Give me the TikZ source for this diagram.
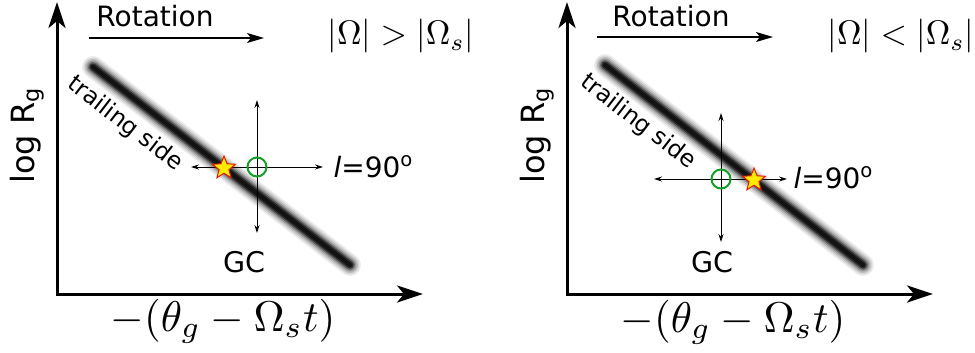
\documentclass[tikz,border=0pt]{standalone}
\usepackage{fontspec}
\newfontfamily\dejavu{DejaVu Sans}
\usetikzlibrary{arrows.meta,shapes.geometric}
\definecolor{ringgreen}{RGB}{20,160,40}
\definecolor{staryellow}{RGB}{255,236,0}
\definecolor{starred}{RGB}{230,25,0}

\begin{document}
\begin{tikzpicture}[x=1pt,y=-1pt,>=Stealth]
\tikzset{axis/.style={line width=3pt,{Stealth[length=26pt,width=17pt,inset=7pt]}-{Stealth[length=26pt,width=17pt,inset=7pt]}},
  rot/.style={line width=1.5pt,-{Stealth[length=17pt,width=10pt,inset=4pt]}},
  cross/.style={line width=0.9pt,{Stealth[length=8pt,width=5pt]}-{Stealth[length=8pt,width=5pt]}},
  txt/.style={font=\dejavu,inner sep=0pt},
  ring/.style={circle,draw=ringgreen,line width=2pt,minimum size=19pt,inner sep=0pt},
  src/.style={star,star points=5,star point ratio=2.3,minimum size=24pt,inner sep=0pt,
    fill=staryellow,draw=starred,line width=1pt}}
\useasboundingbox (0,0) rectangle (975,353);
% ---------- blurred trailing band ----------
\newcommand\band[2]{\foreach \w/\o in {22/0.07,19/0.09,16/0.13,13/0.2,10/0.35,7/0.55,4/0.6}
  {\draw[line width=\w pt,line cap=round,opacity=\o] (#1) -- (#2);}}
% ---------- left panel: |Omega| > |Omega_s| ----------
\coordinate (Lo) at (57,294); \coordinate (Ly) at (57,2); \coordinate (Lx) at (423,294);
\draw[axis] (Ly) -- (Lo) -- (Lx);
\node[txt,scale=3.2,rotate=90] (Llog) at (27,135) {log R\textsubscript{g}};
\node[scale=4.3,inner sep=0pt,anchor=base] (Lxlab) at (223,331) {$-(\theta_g-\Omega_s t)$};
\node[txt,scale=2.8,anchor=base] (Lrot) at (155,27) {Rotation};
\coordinate (Lra) at (89,38); \coordinate (Lrb) at (264,38);
\draw[rot] (Lra) -- (Lrb);
\node[scale=3.4,inner sep=0pt,anchor=base west] (Lcond) at (327,45) {$|\Omega|>|\Omega_s|$};
\coordinate (Lba) at (93,67); \coordinate (Lbb) at (350,265);
\band{Lba}{Lbb}
\node[txt,scale=2.35,rotate=-37.6] (Ltrail) at (125,124) {trailing side};
\coordinate (Lup) at (257,100); \coordinate (Ldn) at (257,233);
\coordinate (Llf) at (191,167); \coordinate (Lrt) at (323,167);
\draw[cross] (Lup) -- (Ldn);
\draw[cross] (Llf) -- (Lrt);
\node[ring] (Lgc) at (257,167) {};
\node[src] (Lstar) at (224,168) {};
\node[txt,scale=2.8,anchor=base west] (Llon) at (333,177) {\itshape l\upshape=90\textsuperscript{o}};
\node[txt,scale=2.85,anchor=base] (Lgclab) at (244,272) {GC};
% ---------- right panel: |Omega| < |Omega_s| ----------
\coordinate (Ro) at (567,294); \coordinate (Ry) at (567,2); \coordinate (Rx) at (933,294);
\draw[axis] (Ry) -- (Ro) -- (Rx);
\node[txt,scale=3.2,rotate=90] (Rlog) at (537,135) {log R\textsubscript{g}};
\node[scale=4.3,inner sep=0pt,anchor=base] (Rxlab) at (733,332) {$-(\theta_g-\Omega_s t)$};
\node[txt,scale=2.8,anchor=base] (Rrot) at (671,27) {Rotation};
\coordinate (Rra) at (597,37); \coordinate (Rrb) at (773,37);
\draw[rot] (Rra) -- (Rrb);
\node[scale=3.4,inner sep=0pt,anchor=base west] (Rcond) at (827,45) {$|\Omega|<|\Omega_s|$};
\coordinate (Rba) at (605,65); \coordinate (Rbb) at (863,265);
\band{Rba}{Rbb}
\node[txt,scale=2.35,rotate=-37.6] (Rtrail) at (638,122) {trailing side};
\coordinate (Rup) at (721,113); \coordinate (Rdn) at (721,242);
\coordinate (Rlf) at (654,179); \coordinate (Rrt) at (787,179);
\draw[cross] (Rup) -- (Rdn);
\draw[cross] (Rlf) -- (Rrt);
\node[ring] (Rgc) at (721,179) {};
\node[src] (Rstar) at (754,180) {};
\node[txt,scale=2.8,anchor=base west] (Rlon) at (793,188) {\itshape l\upshape=90\textsuperscript{o}};
\node[txt,scale=2.85,anchor=base] (Rgclab) at (712,272) {GC};
\end{tikzpicture}
\end{document}
